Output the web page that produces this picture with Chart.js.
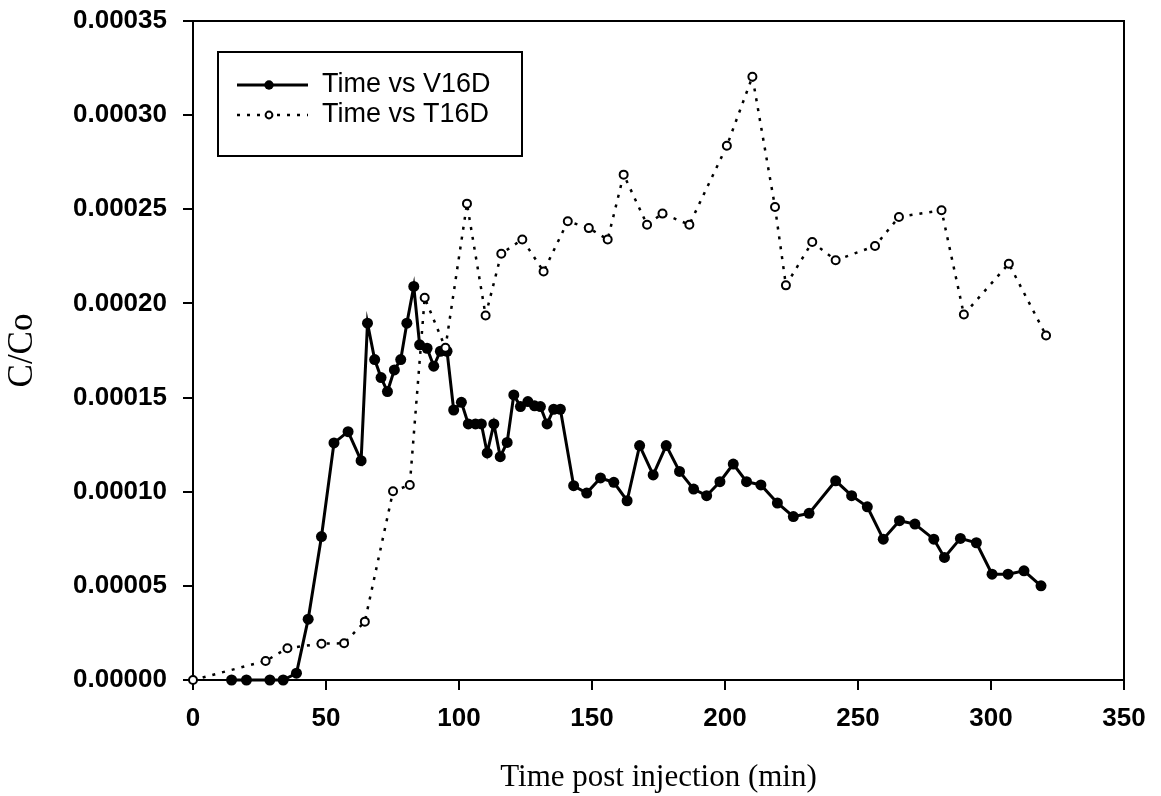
<!DOCTYPE html>
<html>
<head>
<meta charset="utf-8">
<title>C/Co vs time post injection</title>
<script src="https://cdn.jsdelivr.net/npm/chart.js@4.4.1/dist/chart.umd.min.js"></script>
<style>
  html, body { margin: 0; padding: 0; background: #fff; }
  canvas { display: block; }
</style>
</head>
<body>
<canvas id="chart" width="1161" height="796"></canvas>
<script>
// sampling times (min) and C/Co for the two wells
const v16dTime = [14.5, 20.1, 28.9, 33.9, 38.9, 43.3, 48.3, 53.0, 58.3, 63.2, 65.6, 68.3, 70.7, 73.1,
	75.7, 78.1, 80.4, 83.0, 85.2, 88.0, 90.5, 93.0, 95.5, 98.0, 100.9, 103.5, 106.2, 108.4, 110.6,
	113.1, 115.5, 118.1, 120.6, 123.1, 125.9, 128.4, 130.6, 133.1, 135.6, 138.1, 143.1, 148.0, 153.2,
	158.2, 163.2, 167.9, 173.0, 177.9, 182.9, 188.2, 193.1, 198.1, 203.1, 208.1, 213.5, 219.7, 225.7,
	231.6, 241.6, 247.6, 253.5, 259.5, 265.6, 271.4, 278.5, 282.5, 288.5, 294.5, 300.4, 306.4, 312.4, 318.8];
const v16dValue = [0, 0, 0, 0, 0.0000036, 0.0000323, 0.0000762, 0.0001259, 0.0001319, 0.0001165,
	0.0001895, 0.0001702, 0.0001606, 0.0001532, 0.0001647, 0.0001702, 0.0001895, 0.000209, 0.000178,
	0.0001762, 0.0001667, 0.0001746, 0.0001746, 0.0001434, 0.0001475, 0.000136, 0.000136, 0.000136,
	0.0001206, 0.000136, 0.0001186, 0.0001262, 0.0001514, 0.0001452, 0.0001479, 0.0001456, 0.0001452,
	0.000136, 0.0001438, 0.0001438, 0.0001032, 0.0000993, 0.0001073, 0.000105, 0.0000952, 0.0001245,
	0.0001089, 0.0001245, 0.0001108, 0.0001014, 0.0000979, 0.0001053, 0.0001147, 0.0001053, 0.0001036,
	0.000094, 0.0000868, 0.0000885, 0.0001058, 0.0000979, 0.000092, 0.0000748, 0.0000846, 0.0000828,
	0.0000748, 0.0000651, 0.0000752, 0.0000729, 0.0000562, 0.0000562, 0.000058, 0.00005];

const t16dTime = [0, 27.3, 35.5, 48.3, 56.8, 64.6, 75.2, 81.5, 87.1, 94.9, 103.0, 110.0, 115.9, 123.8,
	131.8, 140.9, 148.8, 155.9, 161.9, 170.7, 176.5, 186.6, 200.7, 210.3, 218.8, 222.9, 232.8, 241.6,
	256.4, 265.4, 281.4, 289.8, 306.7, 320.7];
const t16dValue = [0, 0.0000101, 0.0000169, 0.0000193, 0.0000195, 0.000031, 0.0001002, 0.0001036,
	0.000203, 0.0001764, 0.000253, 0.0001936, 0.0002264, 0.000234, 0.000217, 0.0002436, 0.00024,
	0.000234, 0.0002684, 0.0002418, 0.0002477, 0.0002418, 0.0002837, 0.0003204, 0.0002512, 0.0002096,
	0.0002326, 0.0002229, 0.0002305, 0.0002459, 0.0002495, 0.0001941, 0.0002211, 0.000183];

const xTicks = [0, 50, 100, 150, 200, 250, 300, 350];
const yTicks = [0, 0.00005, 0.0001, 0.00015, 0.0002, 0.00025, 0.0003, 0.00035];

const toPoints = (xs, ys) => xs.map((x, i) => ({ x: x, y: ys[i] }));

const sansFont = "'Liberation Sans', Arial, sans-serif";
const serifFont = "'Liberation Serif', 'Times New Roman', serif";

// box around the whole plot area (top and right edges)
const frame = {
	id: 'frame',
	beforeDatasetsDraw(chart) {
		const { ctx, chartArea } = chart;
		ctx.save();
		ctx.strokeStyle = '#000';
		ctx.lineWidth = 2;
		ctx.strokeRect(chartArea.left, chartArea.top, chartArea.right - chartArea.left, chartArea.bottom - chartArea.top);
		ctx.restore();
	},
};

// legend inside the plot: line sample with marker, then label
const legendBox = {
	id: 'legendBox',
	afterDatasetsDraw(chart) {
		const ctx = chart.ctx;
		const left = 218, top = 52, width = 304, height = 104;
		ctx.save();
		ctx.fillStyle = '#fff';
		ctx.fillRect(left, top, width, height);
		ctx.strokeStyle = '#000';
		ctx.lineWidth = 2;
		ctx.strokeRect(left, top, width, height);
		const rows = [85, 115];
		chart.data.datasets.forEach((ds, i) => {
			const y = rows[i];
			ctx.setLineDash(ds.borderDash || []);
			ctx.lineWidth = ds.borderWidth;
			ctx.strokeStyle = ds.borderColor;
			ctx.beginPath();
			ctx.moveTo(237, y);
			ctx.lineTo(308, y);
			ctx.stroke();
			ctx.setLineDash([]);
			ctx.beginPath();
			ctx.arc(269, y, ds.pointRadius * 0.85, 0, Math.PI * 2);
			ctx.fillStyle = ds.pointBackgroundColor;
			ctx.fill();
			ctx.lineWidth = ds.pointBorderWidth;
			if (ds.pointBorderWidth) {
				ctx.strokeStyle = ds.pointBorderColor;
				ctx.stroke();
			}
			ctx.fillStyle = '#000';
			ctx.font = '27px ' + sansFont;
			ctx.textBaseline = 'middle';
			ctx.textAlign = 'left';
			ctx.fillText(ds.label, 322, y);
		});
		ctx.restore();
	},
};

new Chart(document.getElementById('chart'), {
	type: 'line',
	data: {
		datasets: [
			{
				label: 'Time vs V16D',
				data: toPoints(v16dTime, v16dValue),
				borderColor: '#000',
				borderWidth: 3,
				pointRadius: 5.5,
				pointBackgroundColor: '#000',
				pointBorderColor: '#000',
				pointBorderWidth: 0,
				order: 1,
			},
			{
				label: 'Time vs T16D',
				data: toPoints(t16dTime, t16dValue),
				borderColor: '#000',
				borderWidth: 2.5,
				borderDash: [3, 7],
				pointRadius: 4,
				pointBackgroundColor: '#fff',
				pointBorderColor: '#000',
				pointBorderWidth: 2,
				order: 0,
			},
		],
	},
	options: {
		responsive: false,
		animation: false,
		devicePixelRatio: 1,
		clip: false,
		layout: { padding: { top: 21, right: 37, bottom: 0, left: 0 } },
		plugins: {
			legend: { display: false },
			tooltip: { enabled: false },
		},
		scales: {
			x: {
				type: 'linear',
				min: 0,
				max: 350,
				afterFit: (s) => { s.height = 116; },
				afterBuildTicks: (s) => { s.ticks = xTicks.map((v) => ({ value: v })); },
				ticks: {
					color: '#000',
					font: { family: sansFont, size: 26, weight: 'bold' },
					padding: 13,
					maxRotation: 0,
					autoSkip: false,
				},
				grid: { drawOnChartArea: false, tickLength: 10, color: '#000', lineWidth: 2 },
				border: { color: '#000', width: 2 },
				title: {
					display: true,
					text: 'Time post injection (min)',
					color: '#000',
					font: { family: serifFont, size: 31 },
					padding: { top: 0, bottom: 0 },
				},
			},
			y: {
				min: 0,
				max: 0.00035,
				// the top tick label may overhang the plot edge
				afterFit: (s) => { s.width = 193; s.paddingTop = 0; s.paddingBottom = 0; },
				afterBuildTicks: (s) => { s.ticks = yTicks.map((v) => ({ value: v })); },
				ticks: {
					color: '#000',
					font: { family: sansFont, size: 26, weight: 'bold' },
					padding: 16,
					callback: (v) => Number(v).toFixed(5),
				},
				grid: { drawOnChartArea: false, tickLength: 10, color: '#000', lineWidth: 2 },
				border: { color: '#000', width: 2 },
				title: {
					display: true,
					text: 'C/Co',
					color: '#000',
					font: { family: serifFont, size: 35 },
					padding: { top: 2, bottom: 0 },
				},
			},
		},
	},
	plugins: [frame, legendBox],
});
</script>
</body>
</html>
